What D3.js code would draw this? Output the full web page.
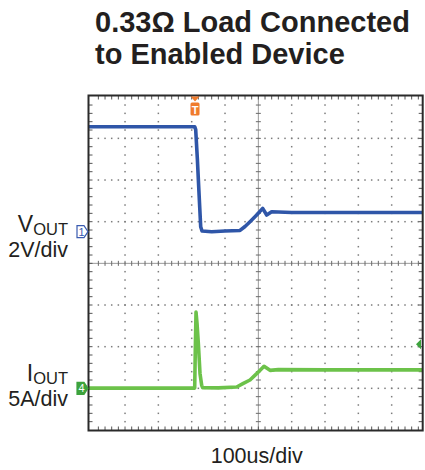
<!DOCTYPE html>
<html>
<head>
<meta charset="utf-8">
<script src="https://cdn.jsdelivr.net/npm/d3@7"></script>
<style>
  body { margin: 0; background: #fff; }
  text { font-family: "Liberation Sans", Arial, sans-serif; }
</style>
</head>
<body>
<div id="chart"></div>
<script>
// scope capture, time in us, ch1 in volts, ch4 in amps
const vTime = [-10, 309, 312, 317, 320, 324, 327, 331, 360, 400, 445, 460, 475, 495, 513, 525, 540, 600, 800, 1000];
const vOut = [5.04, 5.04, 4.9, 3.5, 2.5, 1.2, 0.24, 0.03, 0.0, 0.03, 0.06, 0.25, 0.48, 0.8, 1.12, 0.8, 0.96, 0.92, 0.92, 0.92];
const iTime = [-10, 309, 311, 313, 316, 320, 325, 330, 333, 380, 435, 455, 475, 495, 517, 535, 560, 700, 1000];
const iOut = [0.03, 0.03, 5, 9.15, 7.8, 5.36, 1.76, 0.36, 0.08, 0.05, 0.16, 0.6, 1.0, 1.76, 2.64, 2.16, 2.25, 2.22, 2.22];

const titleLines = ['0.33Ω Load Connected', 'to Enabled Device'];
const chLabels = [
  { main: 'V', sub: 'OUT', scale: '2V/div' },
  { main: 'I', sub: 'OUT', scale: '5A/div' }
];
const timeLabel = '100us/div';

const triggerTime = 310;
const ch1Offset = 4.76; // divisions above bottom
const ch4Offset = 1.0;
const ch4TrigLevel = 5.3;

const width = 425;
const height = 470;
const svg = d3.select('#chart').append('svg').attr('width', width).attr('height', height);

const xDiv = d3.scaleLinear().domain([0, 10]).range([91.7, 425]);
const yDiv = d3.scaleLinear().domain([0, 8]).range([430, 96.7]);
const x = d3.scaleLinear().domain([0, 1000]).range(xDiv.range());
const yV = d3.scaleLinear().domain([-ch1Offset * 2, (8 - ch1Offset) * 2]).range(yDiv.range());
const yI = d3.scaleLinear().domain([-ch4Offset * 5, (8 - ch4Offset) * 5]).range(yDiv.range());

const frame = { x0: 88.5, x1: 422.7, y0: 95.5, y1: 430.5 };

// title
svg.selectAll('text.title')
  .data(titleLines).enter().append('text')
  .attr('class', 'title')
  .attr('x', 95)
  .attr('y', (d, i) => 32 + i * 32)
  .style('font-size', '29px')
  .style('font-weight', 'bold')
  .style('fill', '#231f20')
  .text(d => d);

// grid dots
const grid = svg.append('g');
const minor = d3.range(1, 40).map(k => k / 5);
const minorX = d3.range(1, 50).map(k => k / 5);
[1, 2, 3, 4, 6, 7, 8, 9].forEach((i) => {
  grid.selectAll(null).data(minor).enter().append('rect')
    .attr('x', xDiv(i) - 0.75).attr('y', d => yDiv(d) - 0.75)
    .attr('width', 1.5).attr('height', 1.5)
    .attr('fill', '#7d7d7d');
});
[1, 2, 3, 5, 6, 7].forEach((j) => {
  grid.selectAll(null).data(minorX).enter().append('rect')
    .attr('x', d => xDiv(d) - 0.75).attr('y', yDiv(j) - 0.75)
    .attr('width', 1.5).attr('height', 1.5)
    .attr('fill', '#7d7d7d');
});

// center axes with ticks
grid.append('line')
  .attr('x1', xDiv(5)).attr('x2', xDiv(5)).attr('y1', frame.y0).attr('y2', frame.y1)
  .style('stroke', '#9a9a9a').style('stroke-width', 1);
grid.append('line')
  .attr('x1', frame.x0).attr('x2', frame.x1).attr('y1', yDiv(4)).attr('y2', yDiv(4))
  .style('stroke', '#9a9a9a').style('stroke-width', 1);
grid.selectAll(null).data(minor).enter().append('line')
  .attr('x1', xDiv(5) - 2.5).attr('x2', xDiv(5) + 2.5)
  .attr('y1', d => yDiv(d)).attr('y2', d => yDiv(d))
  .style('stroke', '#6a6a6a');
grid.selectAll(null).data(minorX.filter(d => xDiv(d) < frame.x1)).enter().append('line')
  .attr('x1', d => xDiv(d)).attr('x2', d => xDiv(d))
  .attr('y1', yDiv(4) - 2.5).attr('y2', yDiv(4) + 2.5)
  .style('stroke', '#6a6a6a');

// edge ticks
const ticksX = minorX.filter(d => xDiv(d) < frame.x1 - 1);
grid.selectAll(null).data(ticksX).enter().append('line')
  .attr('x1', d => xDiv(d)).attr('x2', d => xDiv(d))
  .attr('y1', frame.y0).attr('y2', frame.y0 + 4)
  .style('stroke', '#555');
grid.selectAll(null).data(ticksX).enter().append('line')
  .attr('x1', d => xDiv(d)).attr('x2', d => xDiv(d))
  .attr('y1', frame.y1).attr('y2', frame.y1 - 4)
  .style('stroke', '#555');
grid.selectAll(null).data(minor).enter().append('line')
  .attr('x1', frame.x0).attr('x2', frame.x0 + 4)
  .attr('y1', d => yDiv(d)).attr('y2', d => yDiv(d))
  .style('stroke', '#555');
grid.selectAll(null).data(minor).enter().append('line')
  .attr('x1', frame.x1).attr('x2', frame.x1 - 4)
  .attr('y1', d => yDiv(d)).attr('y2', d => yDiv(d))
  .style('stroke', '#555');

// traces
svg.append('clipPath').attr('id', 'plot-clip')
  .append('rect')
  .attr('x', frame.x0).attr('y', frame.y0)
  .attr('width', frame.x1 - frame.x0).attr('height', frame.y1 - frame.y0);

const traces = svg.append('g').attr('clip-path', 'url(#plot-clip)');
const vLine = d3.line().x(d => x(d[0])).y(d => yV(d[1]));
const iLine = d3.line().x(d => x(d[0])).y(d => yI(d[1]));

traces.append('path')
  .datum(d3.zip(vTime, vOut))
  .attr('d', vLine)
  .style('fill', 'none')
  .style('stroke', '#2f56a8')
  .style('stroke-width', 3.6)
  .style('stroke-linejoin', 'round');

traces.append('path')
  .datum(d3.zip(iTime, iOut))
  .attr('d', iLine)
  .style('fill', 'none')
  .style('stroke', '#6cc24a')
  .style('stroke-width', 3.6)
  .style('stroke-linejoin', 'round');

// frame
svg.append('rect')
  .attr('x', frame.x0).attr('y', frame.y0)
  .attr('width', frame.x1 - frame.x0).attr('height', frame.y1 - frame.y0)
  .style('fill', 'none')
  .style('stroke', '#2a2a2a')
  .style('stroke-width', 2);

// trigger marker
const tx = x(triggerTime);
svg.append('path')
  .attr('d', `M${tx - 4.5},${frame.y0 + 1}L${tx + 4.5},${frame.y0 + 1}L${tx},${frame.y0 + 6}Z`)
  .style('fill', '#f07b2c');
svg.append('rect')
  .attr('x', tx - 4.5).attr('y', frame.y0 + 7)
  .attr('width', 9).attr('height', 13).attr('rx', 1.5)
  .style('fill', '#f07b2c');
svg.append('text')
  .attr('x', tx).attr('y', frame.y0 + 18)
  .attr('text-anchor', 'middle')
  .style('font-size', '11px').style('font-weight', 'bold').style('fill', '#fff')
  .text('T');

// channel ground markers
function chMarker(y0, label, stroke, fill, textColor) {
  const g = svg.append('g');
  g.append('path')
    .attr('d', `M77,${y0 - 6}L84,${y0 - 6}L88,${y0}L84,${y0 + 6}L77,${y0 + 6}Z`)
    .style('fill', fill).style('stroke', stroke).style('stroke-width', 1.2);
  g.append('text')
    .attr('x', 81.5).attr('y', y0 + 4)
    .attr('text-anchor', 'middle')
    .style('font-size', '11px').style('fill', textColor)
    .text(label);
}
chMarker(yV(0), '1', '#3a5bb0', '#fff', '#3a5bb0');
chMarker(yI(0), '4', '#3da33d', '#3da33d', '#fff');

// ch4 trigger level arrow
const ty = yI(ch4TrigLevel);
svg.append('path')
  .attr('d', `M416,${ty}L421,${ty - 5}L421,${ty + 5}Z`)
  .style('fill', '#3da33d');

// channel labels
const labelY = [[231.5, 257], [381, 406]];
chLabels.forEach((c, i) => {
  const t = svg.append('text')
    .attr('x', 68).attr('y', labelY[i][0])
    .attr('text-anchor', 'end')
    .style('font-size', '23px').style('fill', '#231f20');
  t.append('tspan').text(c.main);
  t.append('tspan').attr('dy', 3).style('font-size', '16.5px').text(c.sub);
  svg.append('text')
    .attr('x', 68).attr('y', labelY[i][1])
    .attr('text-anchor', 'end')
    .style('font-size', '21.5px').style('fill', '#231f20')
    .text(c.scale);
});

svg.append('text')
  .attr('x', 256.7).attr('y', 463)
  .attr('text-anchor', 'middle')
  .style('font-size', '21.5px').style('fill', '#231f20')
  .text(timeLabel);
</script>
</body>
</html>
